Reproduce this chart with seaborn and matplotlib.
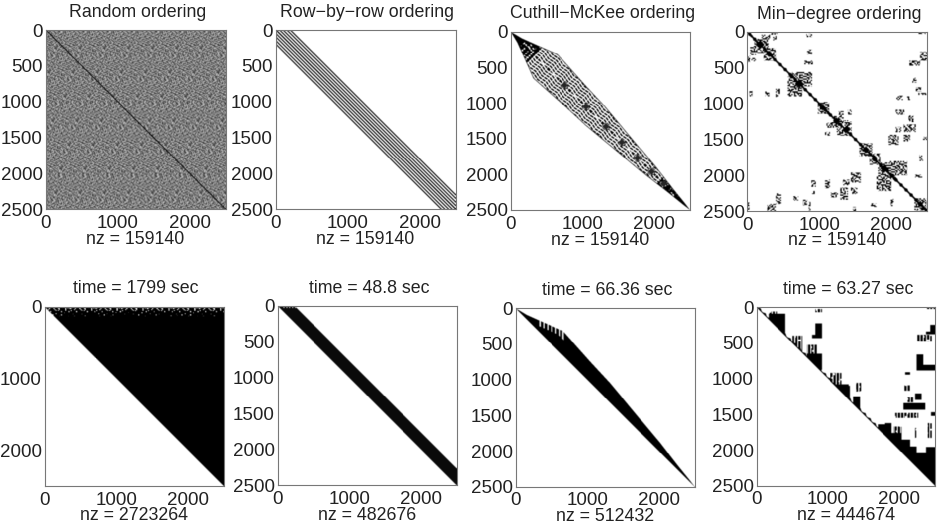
import numpy as np
import seaborn as sns
import matplotlib
matplotlib.use('Agg')
import matplotlib.pyplot as plt

sns.set_theme(style="white")
plt.rcParams['font.family'] = ['Liberation Sans', 'DejaVu Sans']

# ---------- text ----------
top_titles = ["Random ordering", "Row\u2212by\u2212row ordering", "Cuthill\u2212McKee ordering", "Min\u2212degree ordering"]
bottom_titles = ["time = 1799 sec", "time = 48.8 sec", "time = 66.36 sec", "time = 63.27 sec"]
top_nz = ["159140", "159140", "159140", "159140"]
bottom_nz = ["2723264", "482676", "512432", "444674"]
x_ticks = [0, 1000, 2000]
y_ticks = [0, 500, 1000, 1500, 2000, 2500]
y_ticks_fill = [0, 1000, 2000]

# ---------- data (matrix units, 0-2500) ----------
row_offsets = [-200, -150, -100, -50, 0, 50, 100, 150, 200]
row_fill_width = 235

# Cuthill-McKee envelope: position along the diagonal, half band width
cm_pos = [0, 123, 293, 485, 892, 1183, 1440, 1696, 1952, 2232, 2400, 2500]
cm_band = [0, 61, 190, 340, 293, 271, 224, 177, 131, 60, 25, 0]
cm_centers = [750, 1050, 1330, 1550, 1770, 1960, 2130]
cm_slits = [340, 395, 450, 505, 560, 615, 660]

# Min-degree: diagonal blobs (centre, size)
md_diag = [(60, 40), (180, 110), (310, 70), (450, 40), (620, 60), (720, 110), (870, 50), (1050, 80), (1130, 50),
           (1240, 90), (1370, 90), (1500, 40), (1650, 90), (1770, 70), (1900, 90), (2050, 60), (2200, 40), (2400, 70)]
# Min-degree: off-diagonal clusters (x0, x1, y0, y1), upper half, mirrored when drawn
md_clusters = [(330, 420, 0, 40), (200, 320, 40, 120), (360, 410, 60, 120), (820, 900, 30, 75),
               (830, 900, 250, 310), (790, 910, 400, 450), (2380, 2480, 0, 30), (2400, 2500, 280, 400),
               (2250, 2400, 400, 470), (2290, 2350, 640, 710), (2340, 2420, 770, 830), (2070, 2160, 890, 950),
               (2220, 2260, 900, 950), (2370, 2490, 850, 880), (2060, 2180, 1080, 1150), (2240, 2310, 1160, 1260),
               (2170, 2340, 1290, 1400), (2060, 2140, 1330, 1420), (1960, 2100, 1440, 1580), (2170, 2260, 1440, 1530),
               (2440, 2500, 1470, 1510), (2390, 2440, 1720, 1800), (1400, 1450, 1080, 1150), (1350, 1420, 1230, 1300),
               (1100, 1290, 1270, 1340), (1250, 1400, 1400, 1450), (720, 900, 560, 760), (560, 760, 620, 800),
               (1980, 2220, 1800, 2000), (2330, 2430, 1990, 2030), (100, 300, 100, 300), (230, 400, 230, 400),
               (980, 1140, 980, 1120), (1200, 1320, 1170, 1300), (1290, 1450, 1290, 1450), (1560, 1740, 1560, 1740),
               (1700, 1850, 1700, 1850), (1820, 2050, 1820, 2050), (2320, 2490, 2320, 2490)]

# Min-degree fill blocks (x0, x1, y0, y1), clipped to the upper triangle when drawn
fill_solid = [(285, 400, 177, 363), (820, 913, 224, 387), (773, 913, 387, 433), (2430, 2500, 247, 377), (2370, 2500, 340, 377),
              (2240, 2335, 660, 876), (2240, 2500, 806, 885), (2080, 2150, 908, 945), (2220, 2310, 1210, 1295),
              (2055, 2360, 1340, 1435), (2440, 2500, 1470, 1520), (1355, 1450, 1250, 1420), (800, 913, 650, 876),
              (1200, 1310, 1100, 1280), (170, 400, 90, 363), (700, 913, 650, 876), (1100, 1290, 1080, 1270),
              (1700, 1890, 1640, 1800)]
fill_hatched = [(170, 285, 60, 155), (820, 913, 23, 70), (2380, 2500, 0, 23), (2240, 2450, 387, 480), (2055, 2150, 1095, 1170),
                (1940, 2265, 1480, 1550), (2395, 2450, 1620, 1830), (2220, 2250, 1690, 1830), (1915, 2030, 1670, 1760),
                (1380, 1465, 1060, 1180), (1030, 1190, 920, 1085), (700, 840, 525, 760), (500, 640, 400, 640),
                (2100, 2190, 1260, 1330)]
sky_x0 = [1800, 1890, 2030, 2150, 2240, 2370]
sky_x1 = [1890, 2030, 2150, 2240, 2370, 2500]
sky_top = [1620, 1760, 1855, 1950, 2040, 1957]

# grey levels of the random panel, typed as a tile
noise_tile = [
    "381640927513860274915368", "720591368042795136480729", "164837205916384027593614",
    "925016743582901467382051", "473289160735248916057392", "806152947301675283941680",
    "239764018596320741865203", "658301792460853917204576", "041975386127496305718942",
    "792438605318027564193806", "315860274951736809425137", "684019537286154370962845",
    "127593840672981543068271", "960348215704362895170436", "538716492083547120689503",
    "203985761349086257341798", "876124039568713904526019", "451690823775209631487362",
    "049327516984360178952640", "713850642190587342069175", "295468170326941705836294",
    "860732951407128596314087", "372146089563450281796523", "518094367218693740251968",
]
noise_shift = [0, 7, 15, 3, 11, 19]

# ---------- grids ----------
CELLS = 360      # about two heatmap cells per pixel
FINE = 2         # drawn on a finer grid first, then averaged down
N = CELLS * FINE
STEP = 2500 / N
cells = np.arange(N) * STEP + STEP / 2
X, Y = np.meshgrid(cells, cells)
U = X - Y
S = (X + Y) / 2
tile = np.array([[int(c) for c in row] for row in noise_tile])


def noise_at(cell_size):
    # tile looked up on a grid of cell_size units, each block shifted a bit
    i = (Y // cell_size).astype(int)
    j = (X // cell_size).astype(int) + np.array(noise_shift)[(i // 24) % len(noise_shift)]
    return tile[i % 24, j % 24]


def mark_blocks(m, blocks, mask=None):
    for x0, x1, y0, y1 in blocks:
        hit = (X >= x0) & (X <= x1) & (Y >= y0) & (Y <= y1)
        if mask is not None:
            hit &= mask
        m[hit] = 1.0


def soften(m):
    # the scan is blurry, so average down and smooth a little
    c = m.reshape(CELLS, FINE, CELLS, FINE).mean(axis=(1, 3))
    for _ in range(2):
        p = np.pad(c, 1, mode='edge')
        v = 0.25 * p[:-2, :] + 0.5 * p[1:-1, :] + 0.25 * p[2:, :]
        c = 0.25 * v[:, :-2] + 0.5 * v[:, 1:-1] + 0.25 * v[:, 2:]
    return c


# Random ordering
random_m = 0.2 + noise_at(14) / 9 * 0.62
random_m[np.abs(U) < 8] = 1.0

# Row-by-row
row_m = np.zeros((N, N))
for off in row_offsets:
    row_m[np.abs(U - off) < 11] = 1.0

# Cuthill-McKee: stripes along the band, small rings round the centres
band = np.interp(S, cm_pos, cm_band)
near = np.array(cm_centers)[np.abs(S[..., None] - np.array(cm_centers)).argmin(axis=2)]
hex_dist = np.maximum(np.abs(U), np.abs(U) / 2 + 1.6 * np.abs(S - near))
zigzag = np.abs(U) + np.abs((S % 150) - 75) * 0.4
stripe_dist = np.where(hex_dist < 70, hex_dist, zigzag)
inside = np.abs(U) < band
cm_m = np.zeros((N, N))
cm_m[(stripe_dist % 56 < 27) & (S % 42 >= 8) & inside] = 1.0
cm_m[(np.abs(U) >= band - 14) & inside] = 0.85
dots = noise_at(25) >= 3
cm_m[(S < 330) & inside & dots] = 1.0
cm_m[(S > 2080) & inside & dots] = 1.0
cm_m[(S < 170) & inside] = 1.0
cm_m[(S > 2320) & inside] = 1.0
for c in cm_centers:
    cm_m[np.abs(X - c) + np.abs(Y - c) < 50] = 0.85

# Min-degree
md_m = np.zeros((N, N))
md_m[np.abs(U) < 16] = 1.0
md_m[np.abs(U) < 36 - np.abs(S % 70 - 35)] = 1.0
for c, size in md_diag:
    md_m[np.abs(X - c) + np.abs(Y - c) < size * 0.55] = 1.0
speck = noise_at(18) >= 5
for x0, x1, y0, y1 in md_clusters:
    hit = (X >= x0) & (X <= x1) & (Y >= y0) & (Y <= y1)
    md_m[hit & speck] = 1.0
    hit = (Y >= x0) & (Y <= x1) & (X >= y0) & (X <= y1)
    md_m[hit & speck] = 1.0

# Random ordering, factor
full_m = np.zeros((N, N))
full_m[U >= 0] = 1.0
speck_fine = noise_at(15)
full_m[(Y < 25) & (speck_fine >= 7)] = 0.0
full_m[(Y >= 25) & (Y < 55) & (speck_fine >= 8)] = 0.0
full_m[(Y >= 55) & (Y < 85) & (speck_fine >= 9) & (noise_at(25) >= 4)] = 0.0
full_m[(Y >= 85) & (Y < 130) & (speck_fine >= 9) & (noise_at(25) >= 7)] = 0.0

# Row-by-row, factor
row_fill_m = np.zeros((N, N))
row_fill_m[(U >= 0) & (U < row_fill_width)] = 0.96
row_fill_m[(Y < 30) & (U > 40) & (U < row_fill_width) & (X % 40 < 14)] = 0.1

# Cuthill-McKee, factor
cm_fill_m = np.zeros((N, N))
cm_fill_m[(U >= 0) & (U < band)] = 1.0
for x in cm_slits:
    cm_fill_m[(np.abs(X - x) < 9) & (U > band - 110)] = 0.0

# Min-degree, factor
md_fill_m = np.zeros((N, N))
upper = U >= 0
hatch = (X % 45 < 30) & (noise_at(25) >= 1)
md_fill_m[upper & (U < 16)] = 1.0
md_fill_m[upper & (U < 42 - np.abs(S % 70 - 35))] = 1.0
mark_blocks(md_fill_m, fill_solid, mask=upper)
mark_blocks(md_fill_m, fill_hatched, mask=upper & hatch)
for x0, x1, top in zip(sky_x0, sky_x1, sky_top):
    md_fill_m[(X >= x0) & (X < x1) & (Y >= top) & upper] = 1.0

# ---------- layout, pixel boxes of the axes in the 940x529 picture ----------
W, H = 940, 529
boxes = [(45.5, 225.7, 30, 209.3), (275.6, 455.6, 30, 209.3), (510.7, 690, 31.7, 210), (747.3, 927, 32, 211),
         (44.7, 224, 306.7, 486), (277.7, 456.7, 306, 485), (515.7, 694.7, 308.3, 486.7), (756.7, 935, 307.3, 485.7)]
matrices = [random_m, row_m, cm_m, md_m, full_m, row_fill_m, cm_fill_m, md_fill_m]
titles = top_titles + bottom_titles
labels = top_nz + bottom_nz
yticks_all = [y_ticks] * 4 + [y_ticks_fill, y_ticks, y_ticks, y_ticks]
title_y = [17, 17, 17.5, 19, 293, 293, 295, 294]
label_y = [244, 244, 245, 245, 520, 520, 521, 520]

fig = plt.figure(figsize=(W / 100, H / 100), dpi=100, facecolor='white')
for k, m in enumerate(matrices):
    x0, x1, y0, y1 = boxes[k]
    ax = fig.add_axes([x0 / W, 1 - y1 / H, (x1 - x0) / W, (y1 - y0) / H])
    sns.heatmap(soften(m), ax=ax, cmap='gray_r', vmin=0, vmax=1, cbar=False, xticklabels=False, yticklabels=False)
    ax.set_xticks([v / 2500 * CELLS for v in x_ticks], labels=[str(v) for v in x_ticks], rotation=0)
    ax.set_yticks([v / 2500 * CELLS for v in yticks_all[k]], labels=[str(v) for v in yticks_all[k]], rotation=0)
    ax.tick_params(direction='in', length=2, width=0.5, color='#555555', top=True, right=True,
                   labelsize=13.5, labelcolor='#222222', pad=2)
    ax.tick_params(axis='x', pad=4)
    for s in ax.spines.values():
        s.set_visible(True)
        s.set_color('#777777')
        s.set_linewidth(0.8)
    fig.text((x0 + x1) / 2 / W + 0.002, 1 - title_y[k] / H, titles[k], ha='center', va='baseline',
             fontsize=12.8, color='#222222')
    fig.text((x0 + x1) / 2 / W, 1 - label_y[k] / H, "nz = " + labels[k], ha='center', va='baseline',
             fontsize=12.8, color='#222222')

fig.savefig('out.png', dpi=100)
